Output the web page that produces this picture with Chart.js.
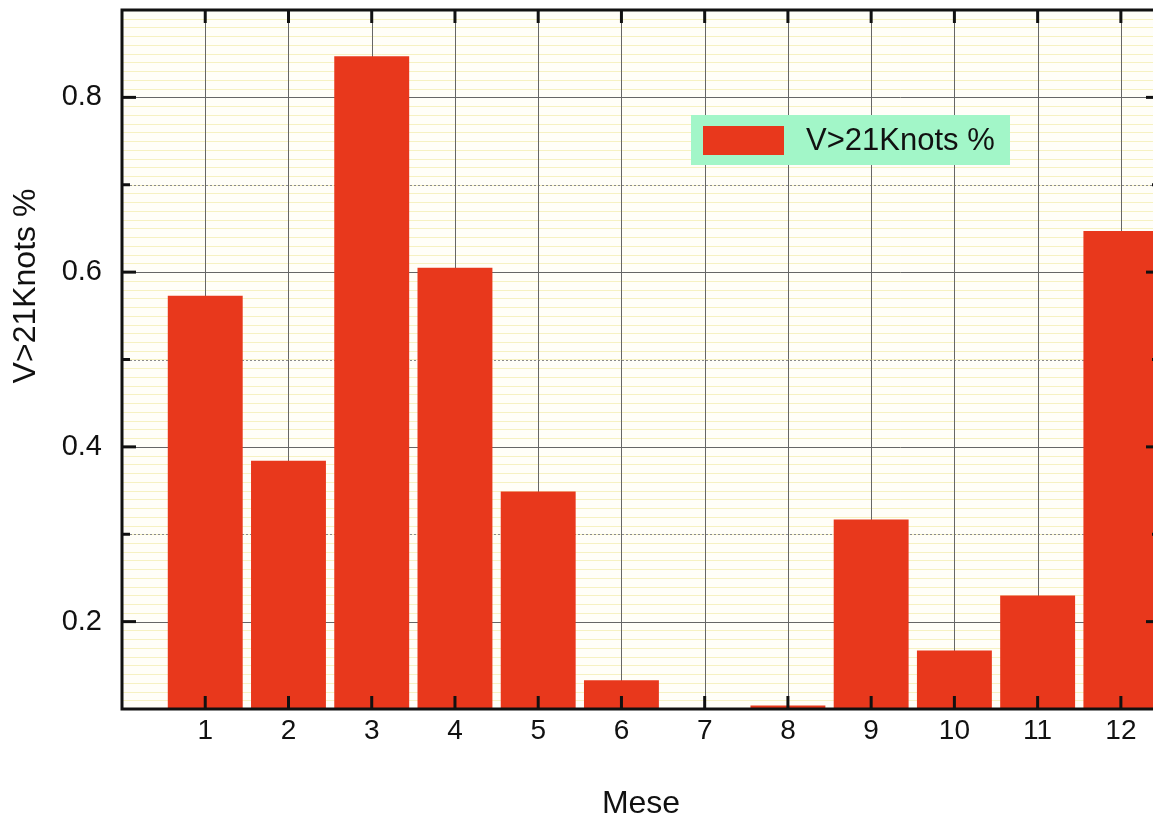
<!DOCTYPE html>
<html>
<head>
<meta charset="utf-8">
<script src="https://cdn.jsdelivr.net/npm/chart.js@4/dist/chart.umd.min.js"></script>
<style>
  html, body { margin: 0; padding: 0; background: #fff; overflow: hidden; }
  #wrap { width: 1170px; height: 819px; }
</style>
</head>
<body>
<div id="wrap"><canvas id="c" width="1170" height="819"></canvas></div>
<script>
// monthly share of wind above 21 knots
const months = [1, 2, 3, 4, 5, 6, 7, 8, 9, 10, 11, 12];
const pctOver21 = [0.573, 0.384, 0.847, 0.605, 0.349, 0.133, 0.101, 0.104, 0.317, 0.167, 0.230, 0.647];
const yMajor = [0.2, 0.4, 0.6, 0.8];
const yMinor = [0.3, 0.5, 0.7];
const seriesLabel = "V>21Knots %";

const BAR = "#e8381c";
const FONT = "'Liberation Sans', Arial, Helvetica, sans-serif";

// grid, frame, inward ticks, y title and the boxed legend
const framePlugin = {
  id: "frame",
  beforeDatasetsDraw(chart) {
    const { ctx, chartArea: a, scales: { x, y } } = chart;
    ctx.save();
    ctx.fillStyle = "#fffef8";
    ctx.fillRect(a.left, a.top, a.right - a.left, a.bottom - a.top);

    // fine yellow rules
    ctx.strokeStyle = "rgba(238,228,140,0.5)";
    ctx.lineWidth = 1;
    for (let v = 0.1; v <= 0.9 + 1e-9; v += 0.01) {
      const py = Math.round(y.getPixelForValue(v)) + 0.5;
      ctx.beginPath(); ctx.moveTo(a.left, py); ctx.lineTo(a.right, py); ctx.stroke();
    }
    // dotted minor lines
    ctx.strokeStyle = "#8a8a8a";
    ctx.setLineDash([2, 2]);
    yMinor.forEach(v => {
      const py = Math.round(y.getPixelForValue(v)) + 0.5;
      ctx.beginPath(); ctx.moveTo(a.left, py); ctx.lineTo(a.right, py); ctx.stroke();
    });
    ctx.setLineDash([]);
    // solid major lines
    ctx.strokeStyle = "#666";
    yMajor.forEach(v => {
      const py = Math.round(y.getPixelForValue(v)) + 0.5;
      ctx.beginPath(); ctx.moveTo(a.left, py); ctx.lineTo(a.right, py); ctx.stroke();
    });
    months.forEach(m => {
      const px = Math.round(x.getPixelForValue(m)) + 0.5;
      ctx.beginPath(); ctx.moveTo(px, a.top); ctx.lineTo(px, a.bottom); ctx.stroke();
    });
    ctx.restore();
  },
  afterDatasetsDraw(chart) {
    const { ctx, chartArea: a, scales: { x, y } } = chart;
    ctx.save();
    ctx.strokeStyle = "#111";
    ctx.lineWidth = 3;
    ctx.strokeRect(a.left, a.top, a.right - a.left, a.bottom - a.top);

    months.forEach(m => {
      const px = x.getPixelForValue(m);
      ctx.beginPath(); ctx.moveTo(px, a.bottom); ctx.lineTo(px, a.bottom - 13); ctx.stroke();
      ctx.beginPath(); ctx.moveTo(px, a.top); ctx.lineTo(px, a.top + 13); ctx.stroke();
    });
    yMajor.forEach(v => {
      const py = y.getPixelForValue(v);
      ctx.beginPath(); ctx.moveTo(a.left, py); ctx.lineTo(a.left + 14, py); ctx.stroke();
      ctx.beginPath(); ctx.moveTo(a.right, py); ctx.lineTo(a.right - 14, py); ctx.stroke();
    });
    yMinor.forEach(v => {
      const py = y.getPixelForValue(v);
      ctx.beginPath(); ctx.moveTo(a.left, py); ctx.lineTo(a.left + 8, py); ctx.stroke();
      ctx.beginPath(); ctx.moveTo(a.right, py); ctx.lineTo(a.right - 8, py); ctx.stroke();
    });

    // legend box
    ctx.fillStyle = "#a2f6c8";
    ctx.fillRect(691, 115, 319, 50);
    ctx.fillStyle = BAR;
    ctx.fillRect(703, 126, 81, 29);
    ctx.fillStyle = "#111";
    ctx.font = "31px " + FONT;
    ctx.textBaseline = "middle";
    ctx.textAlign = "left";
    ctx.fillText(chart.data.datasets[0].label, 806, 141);

    // y axis title, set above the middle of the axis
    ctx.translate(26, 286);
    ctx.rotate(-Math.PI / 2);
    ctx.textAlign = "center";
    ctx.font = "32px " + FONT;
    ctx.fillText(seriesLabel, 0, 0);
    ctx.restore();
  }
};

new Chart(document.getElementById("c"), {
  type: "bar",
  data: {
    datasets: [{
      label: seriesLabel,
      data: months.map((m, i) => ({ x: m, y: pctOver21[i] })),
      backgroundColor: BAR,
      borderWidth: 0,
      barPercentage: 0.9,
      categoryPercentage: 1.0,
      base: 0.1
    }]
  },
  options: {
    responsive: false,
    animation: false,
    layout: { padding: { top: 10, right: 10, bottom: 0, left: 0 } },
    plugins: { legend: { display: false }, tooltip: { enabled: false } },
    scales: {
      x: {
        type: "linear",
        offset: false,
        min: 0,
        max: 12.47,
        afterBuildTicks: s => { s.ticks = months.map(v => ({ value: v })); },
        afterFit: s => { s.height = 110; s.paddingLeft = 0; s.paddingRight = 0; },
        grid: { display: false, offset: false },
        border: { display: false },
        ticks: {
          color: "#111",
          font: { family: FONT, size: 28 },
          padding: -3,
          maxRotation: 0,
          autoSkip: false,
          callback: v => String(v)
        },
        title: {
          display: true,
          text: "Mese",
          color: "#111",
          font: { family: FONT, size: 32 },
          padding: { top: 0, bottom: -4 }
        }
      },
      y: {
        min: 0.1,
        max: 0.9,
        afterBuildTicks: s => { s.ticks = yMajor.map(v => ({ value: v })); },
        afterFit: s => { s.width = 122; s.paddingTop = 0; s.paddingBottom = 0; },
        grid: { display: false },
        border: { display: false },
        ticks: {
          color: "#111",
          font: { family: FONT, size: 29 },
          padding: 12,
          callback: v => v.toFixed(1)
        }
      }
    }
  },
  plugins: [framePlugin]
});
</script>
</body>
</html>
